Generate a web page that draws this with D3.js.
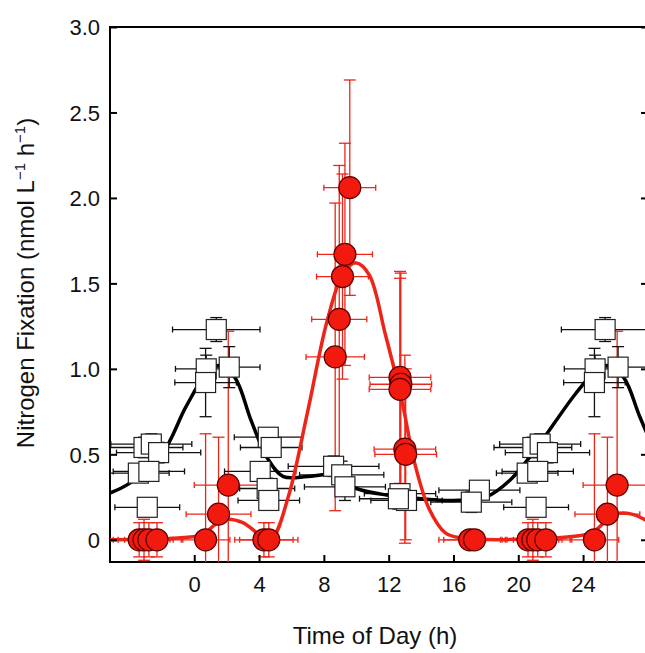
<!DOCTYPE html>
<html><head><meta charset="utf-8">
<script src="https://cdn.jsdelivr.net/npm/d3@7"></script>
<style>body{margin:0;background:#fff}svg{font-family:"Liberation Sans",Arial,sans-serif}</style>
</head><body><svg id="c" width="645" height="653"></svg>
<script>
// one daily cycle of observations [hour, value, xErr, yErr]; points before 4 h repeat a day later
const squares = [
  [1.36,1.23,2.7,0.07],[0.74,1.0,1.9,0.08],[0.7,0.92,1.9,0.2],[2.16,1.01,1.9,0.12],
  [-3.1,0.54,2.4,0.06],[-2.65,0.56,2.5,0.06],[-2.2,0.51,2.6,0.06],
  [-3.45,0.39,1.9,0.05],[-2.8,0.40,2.2,0.05],[-2.9,0.19,2.0,0.05],
  [4.57,0.6,2.1,0.05],[4.75,0.54,1.9,0.05],[4.07,0.40,2.2,0.05],[4.5,0.3,1.7,0.06],[4.6,0.23,1.9,0.05],
  [8.6,0.43,2.8,0.06],[9.1,0.38,2.6,0.08],[9.3,0.31,2.5,0.08],
  [12.7,0.27,2.2,0.05],[13.1,0.23,2.2,0.05],[12.6,0.24,2.4,0.06],
  [17.6,0.29,2.5,0.05],[17.1,0.22,2.5,0.06]
];
const circles = [
  [9.6,2.06,1.6,0.63],[9.3,1.67,1.7,0.65],[9.15,1.54,1.6,0.6],[8.95,1.29,1.7,0.9],[8.7,1.07,1.8,0.9],
  [12.7,0.95,1.9,0.62],[12.75,0.91,1.9,0.65],[12.7,0.88,1.9,0.65],[13.0,0.53,1.9,0.55],[13.05,0.5,1.9,0.5],
  [2.1,0.32,2.1,0.9],[1.5,0.15,2.0,0.45],
  [-3.4,0,1.6,0.1],[-3.1,0,1.6,0.12],[-2.8,0,1.5,0.1],[-2.3,0,1.6,0.1],
  [0.7,0,1.5,0.62],[4.3,0,1.8,0.1],[4.6,0,1.8,0.1],[17.0,0,1.9,0.05],[17.3,0,1.9,0.05]
];
const blackFit = [[-5.3,0.27],[-4,0.33],[-2,0.5],[-0.5,0.78],[0.8,0.98],[1.5,1.02],[2.5,0.95],[3.5,0.7],[4.5,0.48],[5.5,0.37],[7,0.37],[8.5,0.38],[10,0.3],[12,0.26],[14,0.24],[16,0.23],[18,0.25],[19.5,0.35],[21,0.52],[23.5,0.85],[24.8,0.99],[25.5,1.02],[26.5,0.95],[27.5,0.72],[28.5,0.5]];
const redFit = [[-5.3,0],[-1,0.01],[0.5,0.03],[1.3,0.09],[2,0.12],[3,0.1],[4.2,0.02],[4.8,0.01],[5.8,0.25],[7,0.75],[8.2,1.28],[9.2,1.56],[10,1.62],[10.8,1.55],[11.8,1.2],[12.8,0.82],[13.6,0.45],[14.5,0.18],[15.5,0.04],[16.5,0.01],[22,0.01],[24.5,0.04],[25.3,0.1],[26,0.15],[27,0.15],[28.5,0.08]];
const xTicks = [0,4,8,12,16,20,24];
const yTicks = [0,0.5,1.0,1.5,2.0,2.5,3.0];
const yTickLabels = ["0","0.5","1.0","1.5","2.0","2.5","3.0"];

const withRepeat = d => d.concat(d.filter(p => p[0] < 4).map(p => [p[0]+24, p[1], p[2], p[3]]));
const sq = withRepeat(squares), ci = withRepeat(circles);

const svg = d3.select("#c");
const x = d3.scaleLinear().domain([-5.2, 28.5]).range([110, 656]);
const y = d3.scaleLinear().domain([-0.13, 3.0]).range([562, 27]);
const g = svg.append("g");
svg.append("clipPath").attr("id","cl").append("rect").attr("x",110).attr("y",27).attr("width",546).attr("height",535);
const p = svg.append("g").attr("clip-path","url(#cl)");

function errBars(data, col, w) {
  const e = p.append("g").attr("stroke", col).attr("stroke-width", w).attr("fill","none");
  data.forEach(d => {
    const cx = x(d[0]), cy = y(d[1]);
    const x0 = x(d[0]-d[2]), x1 = x(d[0]+d[2]), y0 = y(d[1]-d[3]), y1 = y(d[1]+d[3]);
    e.append("line").attr("x1",x0).attr("x2",x1).attr("y1",cy).attr("y2",cy);
    e.append("line").attr("x1",x0).attr("x2",x0).attr("y1",cy-3).attr("y2",cy+3);
    e.append("line").attr("x1",x1).attr("x2",x1).attr("y1",cy-3).attr("y2",cy+3);
    e.append("line").attr("x1",cx).attr("x2",cx).attr("y1",y0).attr("y2",y1);
    e.append("line").attr("x1",cx-6).attr("x2",cx+6).attr("y1",y0).attr("y2",y0);
    e.append("line").attr("x1",cx-6).attr("x2",cx+6).attr("y1",y1).attr("y2",y1);
  });
}
errBars(ci, "#ee2418", 1.3);
errBars(sq, "#111", 1.3);

const line = d3.line().x(d => x(d[0])).y(d => y(d[1])).curve(d3.curveCatmullRom);
p.append("path").datum(blackFit).attr("d", line).attr("fill","none").attr("stroke","#000").attr("stroke-width",3.5);
p.append("path").datum(redFit).attr("d", line).attr("fill","none").attr("stroke","#ee2418").attr("stroke-width",3.5);

p.selectAll("rect.s").data(sq).join("rect").attr("class","s")
  .attr("x", d => x(d[0])-10).attr("y", d => y(d[1])-10).attr("width",20).attr("height",20)
  .attr("fill","#fff").attr("stroke","#222").attr("stroke-width",1.2);
p.selectAll("circle").data(ci).join("circle")
  .attr("cx", d => x(d[0])).attr("cy", d => y(d[1])).attr("r",11)
  .attr("fill","#f21a0e").attr("stroke","#5a0000").attr("stroke-width",1.2);

// frame and axes
g.append("rect").attr("x",110).attr("y",27).attr("width",546).attr("height",535).attr("fill","none").attr("stroke","#000").attr("stroke-width",2);
const xa = svg.append("g").attr("transform","translate(0,562)")
  .call(d3.axisBottom(x).tickValues(xTicks).tickSize(-7).tickPadding(14).tickFormat(d3.format("d")));
const ya = svg.append("g").attr("transform","translate(110,0)")
  .call(d3.axisLeft(y).tickValues(yTicks).tickSize(-7).tickPadding(10).tickFormat((d,i) => yTickLabels[i]));
const yr = svg.append("g").attr("transform","translate(648,0)")
  .call(d3.axisRight(y).tickValues(yTicks).tickSize(-7).tickFormat(""));
[xa, ya, yr].forEach(a => { a.select(".domain").remove(); a.selectAll("line").attr("stroke-width",2); a.selectAll("text").attr("font-size",22).attr("fill","#111"); });
ya.selectAll("text").attr("dy","0.35em");

svg.append("text").attr("x",375).attr("y",644).attr("text-anchor","middle").attr("font-size",24).attr("fill","#111").text("Time of Day (h)");
const yl = svg.append("text").attr("transform","translate(34,283) rotate(-90)").attr("text-anchor","middle").attr("font-size",24).attr("fill","#111");
yl.append("tspan").text("Nitrogen Fixation (nmol L");
yl.append("tspan").attr("dy",-9).attr("font-size",15).text("\u22121");
yl.append("tspan").attr("dy",9).text(" h");
yl.append("tspan").attr("dy",-9).attr("font-size",15).text("\u22121");
yl.append("tspan").attr("dy",9).text(")");
</script></body></html>
